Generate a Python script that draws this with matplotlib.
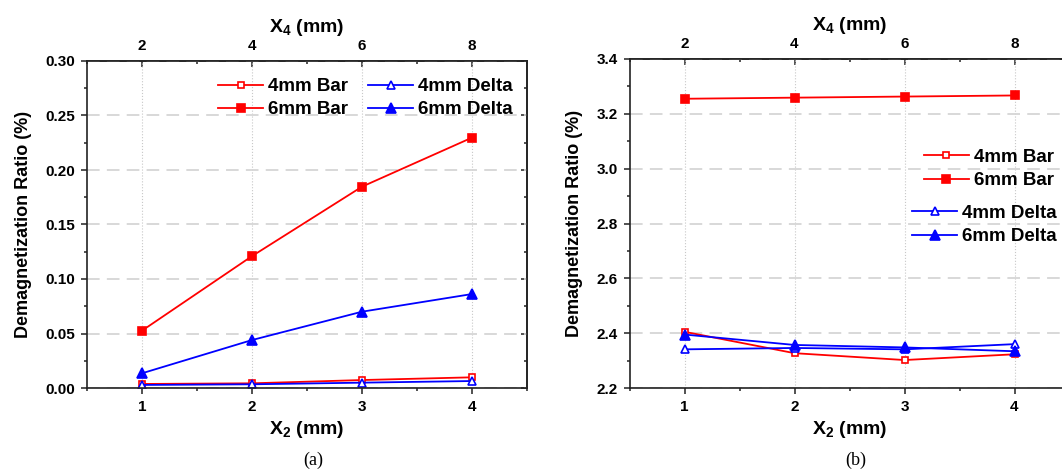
import matplotlib.pyplot as plt
from matplotlib.ticker import MultipleLocator

# ─── Data ─────────────────────────────────────────────────────────────────────

x2 = [1, 2, 3, 4]
x4_ticks = [2, 4, 6, 8]
labels = ['4mm Bar', '6mm Bar', '4mm Delta', '6mm Delta']

# panel (a)
a_bar4   = [0.0037, 0.0043, 0.0073, 0.0098]
a_bar6   = [0.0526, 0.121, 0.1847, 0.2297]
a_delta4 = [0.0028, 0.0034, 0.0049, 0.0064]
a_delta6 = [0.0135, 0.044, 0.070, 0.0862]

# panel (b)
b_bar4   = [2.405, 2.327, 2.302, 2.323]
b_bar6   = [3.255, 3.259, 3.263, 3.267]
b_delta4 = [2.341, 2.346, 2.341, 2.360]
b_delta6 = [2.395, 2.357, 2.348, 2.334]

# ─── Style ────────────────────────────────────────────────────────────────────

plt.rcParams['font.family']      = 'Liberation Sans'
plt.rcParams['font.weight']      = 'bold'
plt.rcParams['axes.labelweight'] = 'bold'
plt.rcParams['mathtext.fontset'] = 'custom'
plt.rcParams['mathtext.rm']      = 'Liberation Sans:bold'
plt.rcParams['mathtext.it']      = 'Liberation Sans:bold'
plt.rcParams['mathtext.bf']      = 'Liberation Sans:bold'

RED  = '#ff0000'
BLUE = '#0000ff'
SPINE = '#222222'

styles = [
    dict(color=RED,  marker='s', mfc='white', ms=5,   mec=RED),
    dict(color=RED,  marker='s', mfc=RED,     ms=6,   mec=RED),
    dict(color=BLUE, marker='^', mfc='white', ms=6,   mec=BLUE),
    dict(color=BLUE, marker='^', mfc=BLUE,    ms=6.5, mec=BLUE),
]

fig = plt.figure(figsize=(10.62, 4.69), dpi=100)


def draw_panel(ax, series, ylim, ystep, yminor, fmt):
    lines = []
    for ys, st in zip(series, styles):
        ln, = ax.plot(x2, ys, lw=1.3, mew=1.2, **st)
        lines.append(ln)

    ax.set_xlim(0.5, 4.5)
    ax.set_ylim(*ylim)
    ax.xaxis.set_major_locator(MultipleLocator(1))
    ax.xaxis.set_minor_locator(MultipleLocator(0.5))
    ax.yaxis.set_major_locator(MultipleLocator(ystep))
    ax.yaxis.set_minor_locator(MultipleLocator(yminor))
    ax.yaxis.set_major_formatter(fmt)

    ax.tick_params(which='both', direction='out', top=False, right=False,
                   width=1.1, color=SPINE, labelsize=11, pad=4)
    ax.tick_params(which='major', length=4.5)
    ax.tick_params(which='minor', length=2.5)

    ax.yaxis.grid(True, ls=(0, (7, 4)), color='#d6d6d6', lw=1.3)
    ax.xaxis.grid(True, ls=':', color='#c8c8c8', lw=0.8)
    ax.set_axisbelow(True)

    for sp in ax.spines.values():
        sp.set_color(SPINE)
        sp.set_linewidth(1.2)

    # top axis: X4 = 2 * X2, ticks inward
    top = ax.secondary_xaxis('top', functions=(lambda v: 2 * v, lambda v: v / 2))
    top.set_xticks(x4_ticks)
    top.xaxis.set_minor_locator(MultipleLocator(1))
    top.tick_params(which='both', direction='in', width=1.1, color=SPINE,
                    labelsize=11, pad=6)
    top.tick_params(which='major', length=4.5)
    top.tick_params(which='minor', length=2.5)
    top.spines['top'].set_color(SPINE)
    top.spines['top'].set_linewidth(1.2)
    top.set_xlabel('X$_4$ (mm)', fontsize=14, labelpad=5)

    # right axis: ticks only, inward
    right = ax.secondary_yaxis('right')
    right.yaxis.set_major_locator(MultipleLocator(ystep))
    right.yaxis.set_minor_locator(MultipleLocator(yminor))
    right.tick_params(which='both', direction='in', labelright=False,
                      width=1.1, color=SPINE)
    right.tick_params(which='major', length=4.5)
    right.tick_params(which='minor', length=2.5)
    right.spines['right'].set_color(SPINE)
    right.spines['right'].set_linewidth(1.2)

    ax.set_xlabel('X$_2$ (mm)', fontsize=14)
    ax.xaxis.set_label_coords(0.5, -0.095)
    ax.set_ylabel('Demagnetization Ratio (%)', fontsize=13)
    return lines


leg_kw = dict(frameon=False, fontsize=13.5, borderpad=0, borderaxespad=0,
              handlelength=2.4, handletextpad=0.27, labelspacing=0.33,
              loc='upper left')

# ─── Panel (a) ────────────────────────────────────────────────────────────────

ax1 = fig.add_axes([87 / 1062, 81 / 469, 440 / 1062, 327 / 469])
lines_a = draw_panel(ax1, [a_bar4, a_bar6, a_delta4, a_delta6],
                     (0, 0.30), 0.05, 0.025, '{x:.2f}')
ax1.yaxis.set_label_coords(-0.125, 0.5)
ax1.legend(lines_a, labels, ncol=2, columnspacing=1.07,
           bbox_to_anchor=(0.298, 0.948), **leg_kw)

# ─── Panel (b) ────────────────────────────────────────────────────────────────

ax2 = fig.add_axes([629.5 / 1062, 81 / 469, 440 / 1062, 329 / 469])
lines_b = draw_panel(ax2, [b_bar4, b_bar6, b_delta4, b_delta6],
                     (2.2, 3.4), 0.2, 0.1, '{x:.1f}')
ax2.yaxis.set_label_coords(-0.105, 0.5)
leg1 = ax2.legend(lines_b[:2], labels[:2], bbox_to_anchor=(0.669, 0.727), **leg_kw)
ax2.add_artist(leg1)
ax2.legend(lines_b[2:], labels[2:], bbox_to_anchor=(0.643, 0.557), **leg_kw)

# ─── Panel captions ───────────────────────────────────────────────────────────

fig.text(313 / 1062, 1 - 460 / 469, '(a)', ha='center', va='center',
         family='Liberation Serif', weight='normal', fontsize=13)
fig.text(856 / 1062, 1 - 460 / 469, '(b)', ha='center', va='center',
         family='Liberation Serif', weight='normal', fontsize=13)

fig.savefig('out.png', dpi=100)
